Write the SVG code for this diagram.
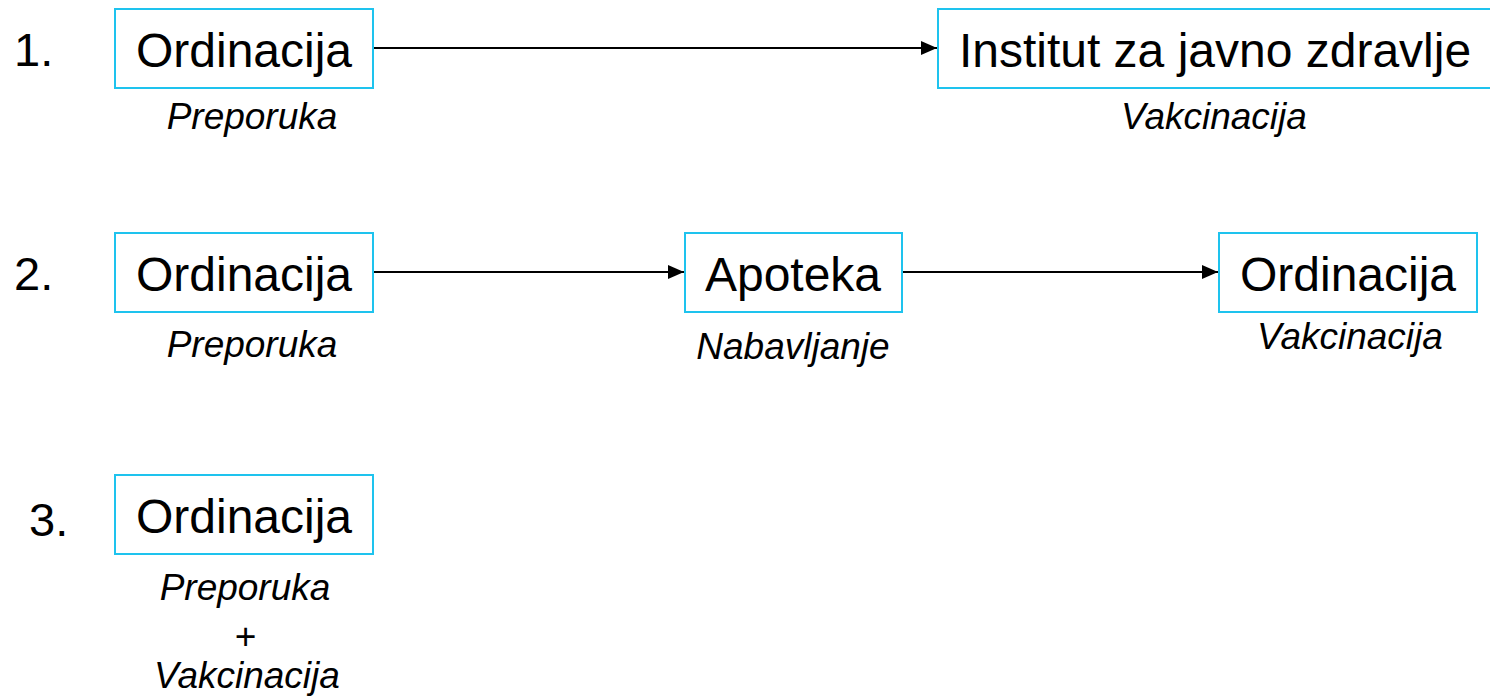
<svg xmlns="http://www.w3.org/2000/svg" width="1490" height="696" viewBox="0 0 1490 696">
<style>
.box{fill:#fff;stroke:#1EC3EE;stroke-width:2}
.t{font-family:"Liberation Sans",Arial,sans-serif;font-size:48px;fill:#000;text-anchor:middle}
.n{font-family:"Liberation Sans",Arial,sans-serif;font-size:47px;fill:#000}
.s{font-family:"Liberation Sans",Arial,sans-serif;font-size:37px;font-style:italic;fill:#000;text-anchor:middle}
.c{stroke:#000;stroke-width:2;fill:none}
</style>
<defs>
<marker id="ah" markerWidth="8" markerHeight="7" refX="8" refY="3.5" orient="auto" markerUnits="strokeWidth">
<path d="M0,0 L8,3.5 L0,7 Z" fill="#000"/>
</marker>
</defs>
<rect width="1490" height="696" fill="#fff"/>
<g id="labels">
<text class="n" x="14" y="66">1.</text>
<text class="n" x="14" y="290">2.</text>
<text class="n" x="29" y="536">3.</text>
</g>
<g id="connectors">
<line class="c" x1="373" y1="48" x2="937" y2="48" marker-end="url(#ah)"/>
<line class="c" x1="373" y1="272" x2="684" y2="272" marker-end="url(#ah)"/>
<line class="c" x1="902" y1="272" x2="1218" y2="272" marker-end="url(#ah)"/>
</g>
<g id="n1a">
<rect class="box" x="115" y="9" width="258" height="79"/>
<text class="t" x="244" y="67">Ordinacija</text>
<text class="s" x="252" y="129">Preporuka</text>
</g>
<g id="n1b">
<rect class="box" x="938" y="9" width="560" height="79"/>
<text class="t" x="1215" y="67">Institut za javno zdravlje</text>
<text class="s" x="1214" y="129">Vakcinacija</text>
</g>
<g id="n2a">
<rect class="box" x="115" y="233" width="258" height="79"/>
<text class="t" x="244" y="291">Ordinacija</text>
<text class="s" x="252" y="357">Preporuka</text>
</g>
<g id="n2b">
<rect class="box" x="685" y="233" width="217" height="79"/>
<text class="t" x="793" y="291">Apoteka</text>
<text class="s" x="793" y="359">Nabavljanje</text>
</g>
<g id="n2c">
<rect class="box" x="1219" y="233" width="258" height="79"/>
<text class="t" x="1348" y="291">Ordinacija</text>
<text class="s" x="1350" y="349">Vakcinacija</text>
</g>
<g id="n3">
<rect class="box" x="115" y="475" width="258" height="79"/>
<text class="t" x="244" y="533">Ordinacija</text>
<text class="s" x="245" y="600">Preporuka</text>
<text class="s" x="245" y="649">+</text>
<text class="s" x="247" y="688">Vakcinacija</text>
</g>
</svg>
